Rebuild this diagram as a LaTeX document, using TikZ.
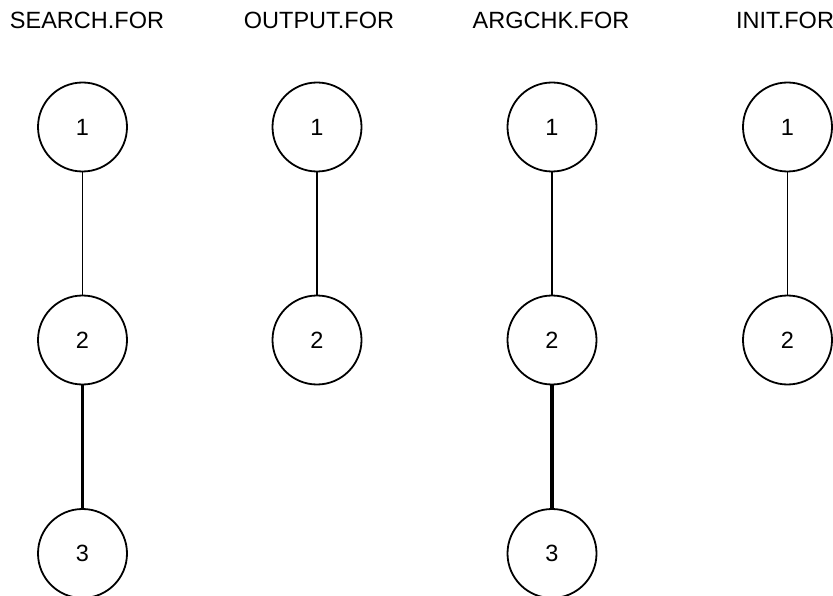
\documentclass[tikz,border=0pt]{standalone}
\usepackage{fontspec}
\setmainfont{Liberation Sans}
\begin{document}
\begin{tikzpicture}[x=1pt,y=-1pt,
  vert/.style={circle,draw,line width=1.8pt,minimum size=89pt,inner sep=0pt,font=\fontsize{23.5}{23.5}\selectfont},
  ttl/.style={font=\fontsize{23.5}{23.5}\selectfont,inner sep=0pt,anchor=base},
  thin/.style={line width=1.8pt},
  thick/.style={line width=3.4pt}]
\useasboundingbox (0,0) rectangle (833,596);
\clip (0,0) rectangle (833,596);
\node[ttl] (t1) at (87,29) {SEARCH.FOR};
\node[ttl] (t2) at (319,29) {OUTPUT.FOR};
\node[ttl] (t3) at (551,29) {ARGCHK.FOR};
\node[ttl] (t4) at (785,29) {INIT.FOR};
\node[vert] (s1) at (82.5,127) {1};
\node[vert] (s2) at (82.5,340) {2};
\node[vert] (s3) at (82.5,553.5) {3};
\node[vert] (o1) at (317,127) {1};
\node[vert] (o2) at (317,340) {2};
\node[vert] (a1) at (552,127) {1};
\node[vert] (a2) at (552,340) {2};
\node[vert] (a3) at (552,553.5) {3};
\node[vert] (i1) at (787.5,127) {1};
\node[vert] (i2) at (787.5,340) {2};
\draw[thin] (s1) -- (s2);
\draw[thick] (s2) -- (s3);
\draw[thin] (o1) -- (o2);
\draw[thin] (a1) -- (a2);
\draw[thick] (a2) -- (a3);
\draw[thin] (i1) -- (i2);
\end{tikzpicture}
\end{document}
